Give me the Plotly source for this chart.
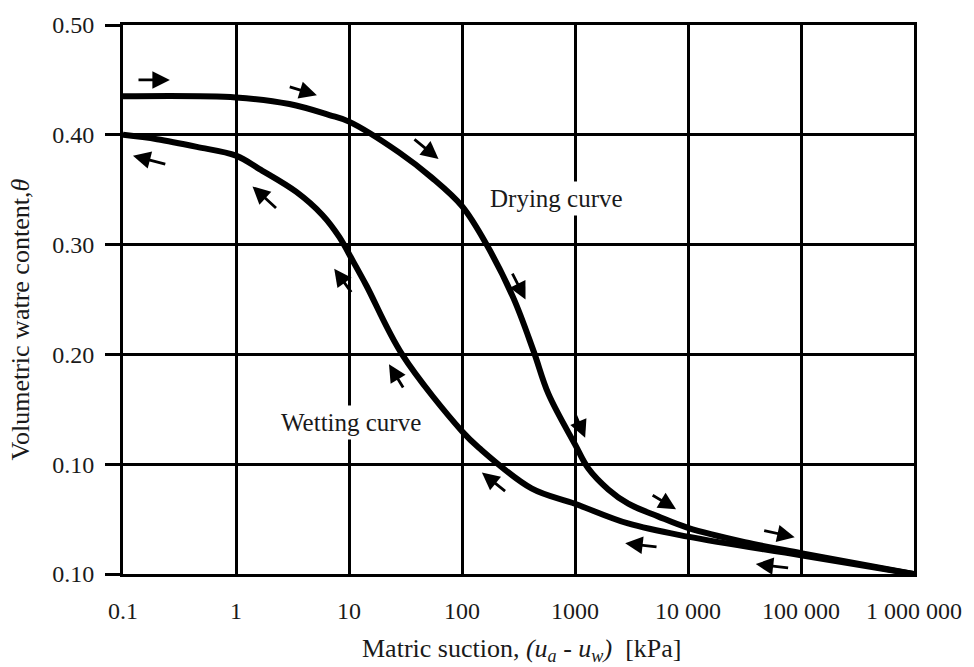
import numpy as np
import plotly.graph_objects as go

# Soil-water characteristic curves: drying and wetting branches
drying_suction = [0.1, 1, 2.97, 6.7, 10, 27.7, 54, 100, 165, 286, 430, 582, 1000,
                  1313, 1970, 2960, 5430, 10000, 31800, 100000, 1000000]
drying_theta = [0.435, 0.434, 0.428, 0.418, 0.412, 0.384, 0.361, 0.335, 0.300, 0.251,
                0.203, 0.164, 0.118, 0.096, 0.077, 0.064, 0.0525, 0.042, 0.029, 0.019, 0.0]

wetting_suction = [0.1, 0.2, 0.45, 1, 1.6, 3.42, 5.81, 8.2, 10.7, 14.2, 29.5, 100, 141,
                   412, 1000, 2950, 10000, 100000, 1000000]
wetting_theta = [0.400, 0.396, 0.389, 0.381, 0.369, 0.348, 0.327, 0.307, 0.286, 0.263,
                 0.200, 0.130, 0.115, 0.078, 0.064, 0.046, 0.034, 0.017, 0.0]

x_tickvals = [0.1, 1, 10, 100, 1000, 10000, 100000, 1000000]
x_ticktext = ["0.1", "1", "10", "100", "1000", "10 000", "100 000", "1 000 000"]
y_tickvals = [0.0, 0.1, 0.2, 0.3, 0.4, 0.5]
y_ticktext = ["0.10", "0.10", "0.20", "0.30", "0.40", "0.50"]

# Direction arrows along the curves: (tail suction, tail theta, head suction, head theta)
arrow_tail_x = [0.133, 2.9, 36.8, 275, 1000, 4720, 45800, 5430, 79300, 248, 30.7, 10.7, 2.33, 0.244]
arrow_tail_y = [0.450, 0.444, 0.397, 0.275, 0.146, 0.0726, 0.0399, 0.0245, 0.0054, 0.0743, 0.1685, 0.2554, 0.332, 0.373]
arrow_head_x = [0.26, 5.2, 62, 365, 1230, 7840, 87900, 2780, 39800, 150, 22.6, 7.4, 1.40, 0.1225]
arrow_head_y = [0.450, 0.436, 0.378, 0.250, 0.124, 0.0590, 0.0335, 0.028, 0.009, 0.0924, 0.191, 0.278, 0.353, 0.381]

FONT = "Liberation Serif, Times New Roman, serif"
INK = "#1a1a1a"

fig = go.Figure()
for xs, ys in ((drying_suction, drying_theta), (wetting_suction, wetting_theta)):
    fig.add_trace(go.Scatter(x=xs, y=ys, mode="lines",
                             line=dict(color="black", width=6, shape="spline", smoothing=1.0),
                             showlegend=False, hoverinfo="skip"))

annotations = []
for tx, ty, hx, hy in zip(arrow_tail_x, arrow_tail_y, arrow_head_x, arrow_head_y):
    annotations.append(dict(
        x=np.log10(hx), y=hy, ax=np.log10(tx), ay=ty,
        xref="x", yref="y", axref="x", ayref="y",
        text="", showarrow=True, arrowhead=2, arrowsize=1.25,
        arrowwidth=2.8, arrowcolor="black", standoff=0, startstandoff=0))

annotations += [
    dict(x=np.log10(690), y=0.342, xref="x", yref="y", text="Drying curve",
         showarrow=False, font=dict(family=FONT, size=25, color=INK),
         bgcolor="white", borderpad=3),
    dict(x=np.log10(10.4), y=0.138, xref="x", yref="y", text="Wetting curve",
         showarrow=False, font=dict(family=FONT, size=25, color=INK),
         bgcolor="white", borderpad=3),
    dict(x=0.504, y=-0.138, xref="paper", yref="paper",
         text="Matric suction, <i>(u<sub>a</sub> - u<sub>w</sub>)</i>  [kPa]",
         showarrow=False, font=dict(family=FONT, size=26, color=INK),
         xanchor="center", yanchor="middle"),
    dict(x=-0.130, y=0.464, xref="paper", yref="paper",
         text="Volumetric watre content,<i>θ</i>", textangle=-90,
         showarrow=False, font=dict(family=FONT, size=26, color=INK),
         xanchor="center", yanchor="middle"),
]

fig.update_layout(
    width=974, height=667,
    margin=dict(l=123, r=57, t=22, b=93),
    paper_bgcolor="white", plot_bgcolor="white",
    font=dict(family=FONT, size=24, color=INK),
    annotations=annotations,
    showlegend=False,
)
fig.update_xaxes(type="log", range=[-1, 6], tickvals=x_tickvals, ticktext=x_ticktext,
                 showgrid=True, gridcolor="black", gridwidth=3,
                 showline=True, linecolor="black", linewidth=3, mirror=True,
                 ticks="", ticklabelstandoff=13, zeroline=False,
                 tickfont=dict(family=FONT, size=24, color=INK))
fig.update_yaxes(range=[0, 0.5], tickvals=y_tickvals, ticktext=y_ticktext,
                 showgrid=True, gridcolor="black", gridwidth=3,
                 showline=True, linecolor="black", linewidth=3, mirror=True,
                 ticks="outside", ticklen=15, tickwidth=3, tickcolor="black",
                 ticklabelstandoff=6, zeroline=False,
                 tickfont=dict(family=FONT, size=24, color=INK))

fig.write_html("out.html")
